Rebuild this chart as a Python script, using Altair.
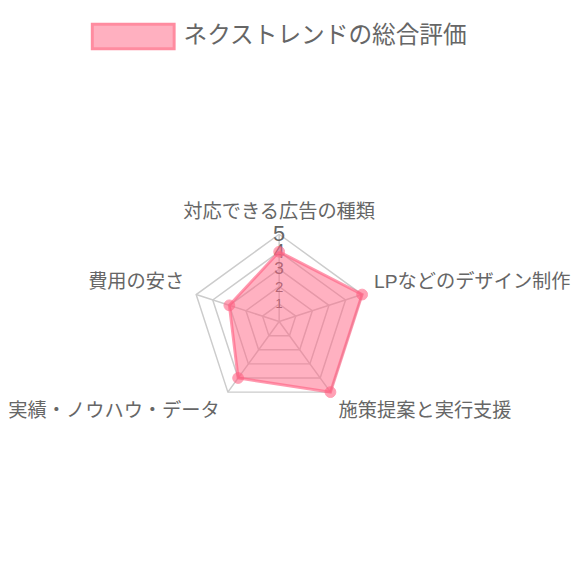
import altair as alt
import pandas as pd

categories = ["対応できる広告の種類", "LPなどのデザイン制作", "施策提案と実行支援",
              "実績・ノウハウ・データ", "費用の安さ"]
values = [4, 5, 5, 4, 3]
tick_values = [1, 2, 3, 4, 5]
series_name = "ネクストレンドの総合評価"

N = len(categories)
MAX = max(tick_values)
FONT = "'Liberation Sans', 'Noto Sans CJK JP', sans-serif"
PINK = "#ff6384"
GRID = "#cccccc"
TEXT = "#666666"

# layout (plot-area pixels)
W, H = 572, 560
CX, CY = 275, 314
UNIT = 17.7
xs = alt.Scale(domain=[-CX / UNIT, (W - CX) / UNIT], nice=False, zero=False)
ys = alt.Scale(domain=[-(H - CY) / UNIT, CY / UNIT], nice=False, zero=False)


def X(f):
    return alt.X(f, type="quantitative", scale=xs, axis=None)


def Y(f):
    return alt.Y(f, type="quantitative", scale=ys, axis=None)


ANG = f"datum.i * 2 * PI / {N}"

# grid rings
ring_df = pd.DataFrame([{"k": k, "i": j % N, "o": j} for k in tick_values for j in range(N + 1)])
rings = (
    alt.Chart(ring_df)
    .transform_calculate(a=ANG)
    .transform_calculate(x="datum.k * sin(datum.a)", y="datum.k * cos(datum.a)")
    .mark_line(stroke=GRID, strokeWidth=1.5)
    .encode(x=X("x"), y=Y("y"), detail="k:N", order="o:Q")
)

# spokes
spoke_df = pd.DataFrame({"i": list(range(N))})
spokes = (
    alt.Chart(spoke_df)
    .transform_calculate(a=ANG)
    .transform_calculate(x0="0", y0="0", x1=f"{MAX} * sin(datum.a)", y1=f"{MAX} * cos(datum.a)")
    .mark_rule(stroke=GRID, strokeWidth=1.5)
    .encode(x=X("x0"), y=Y("y0"), x2="x1:Q", y2="y1:Q")
)

# tick labels
tick_df = pd.DataFrame({"t": tick_values})
ticks = (
    alt.Chart(tick_df)
    .transform_calculate(x="0", y="datum.t")
    .mark_text(font=FONT, color=TEXT, baseline="middle", align="center")
    .encode(
        x=X("x"), y=Y("y"), text="t:N",
        size=alt.Size("t:Q", scale=alt.Scale(domain=[1, 5], range=[13, 22]), legend=None),
    )
)

# data polygon
poly_df = pd.DataFrame([{"i": j % N, "o": j, "v": values[j % N]} for j in range(N + 1)])
poly = (
    alt.Chart(poly_df)
    .transform_calculate(a=ANG)
    .transform_calculate(x="datum.v * sin(datum.a)", y="datum.v * cos(datum.a)")
    .mark_line(filled=True, fill=PINK, fillOpacity=0.5, stroke=PINK, strokeOpacity=0.65, strokeWidth=3)
    .encode(x=X("x"), y=Y("y"), order="o:Q")
)

pts_df = pd.DataFrame({"i": list(range(N)), "v": values, "s": [series_name] * N})
pts_base = (
    alt.Chart(pts_df)
    .transform_calculate(a=ANG)
    .transform_calculate(x="datum.v * sin(datum.a)", y="datum.v * cos(datum.a)")
)
points = pts_base.mark_circle(size=120, color=PINK, opacity=0.6, stroke=PINK, strokeWidth=1).encode(
    x=X("x"), y=Y("y")
)

# invisible layer that carries the legend
legend_layer = pts_base.mark_text(text="").encode(
    x=X("x"), y=Y("y"),
    color=alt.Color(
        "s:N",
        scale=alt.Scale(range=["#ffb0c0"]),
        legend=alt.Legend(
            title=None, orient="none", legendX=84, legendY=-18, padding=0,
            labelFont=FONT, labelFontSize=24, labelColor=TEXT, labelOffset=8,
            symbolType="M-1,-0.3L1,-0.3L1,0.3L-1,0.3Z", symbolSize=6889,
            symbolStrokeColor="#ff8ca0", symbolStrokeWidth=3,
            labelLimit=400,
        ),
    ),
)

# axis (category) labels
R = MAX + 0.6
cat_df = pd.DataFrame({"i": list(range(N)), "label": categories})
cat_base = (
    alt.Chart(cat_df)
    .transform_calculate(a=ANG)
    .transform_calculate(
        sx="sin(datum.a)",
        lx=f"{R} * sin(datum.a)",
        ly=f"{R} * cos(datum.a) + (cos(datum.a) >= 0 ? 0.55 : -0.62)",
    )
)
LFS = 19.5
lab_center = cat_base.transform_filter("abs(datum.sx) < 0.1").mark_text(
    font=FONT, fontSize=LFS, color=TEXT, align="center", baseline="middle", dy=-2
).encode(x=X("lx"), y=Y("ly"), text="label:N")
lab_left = cat_base.transform_filter("datum.sx >= 0.1").mark_text(
    font=FONT, fontSize=LFS, color=TEXT, align="left", baseline="middle", dx=2
).encode(x=X("lx"), y=Y("ly"), text="label:N")
lab_right = cat_base.transform_filter("datum.sx <= -0.1").mark_text(
    font=FONT, fontSize=LFS, color=TEXT, align="right", baseline="middle", dx=-2
).encode(x=X("lx"), y=Y("ly"), text="label:N")

chart = (
    alt.layer(rings, spokes, ticks, poly, points, legend_layer, lab_center, lab_left, lab_right)
    .resolve_scale(size="independent")
    .properties(width=W, height=H, autosize=alt.AutoSizeParams(type="none"), padding=0)
    .configure_view(stroke=None)
)

chart.save("out.html", embed_options={"renderer": "svg", "actions": False})
